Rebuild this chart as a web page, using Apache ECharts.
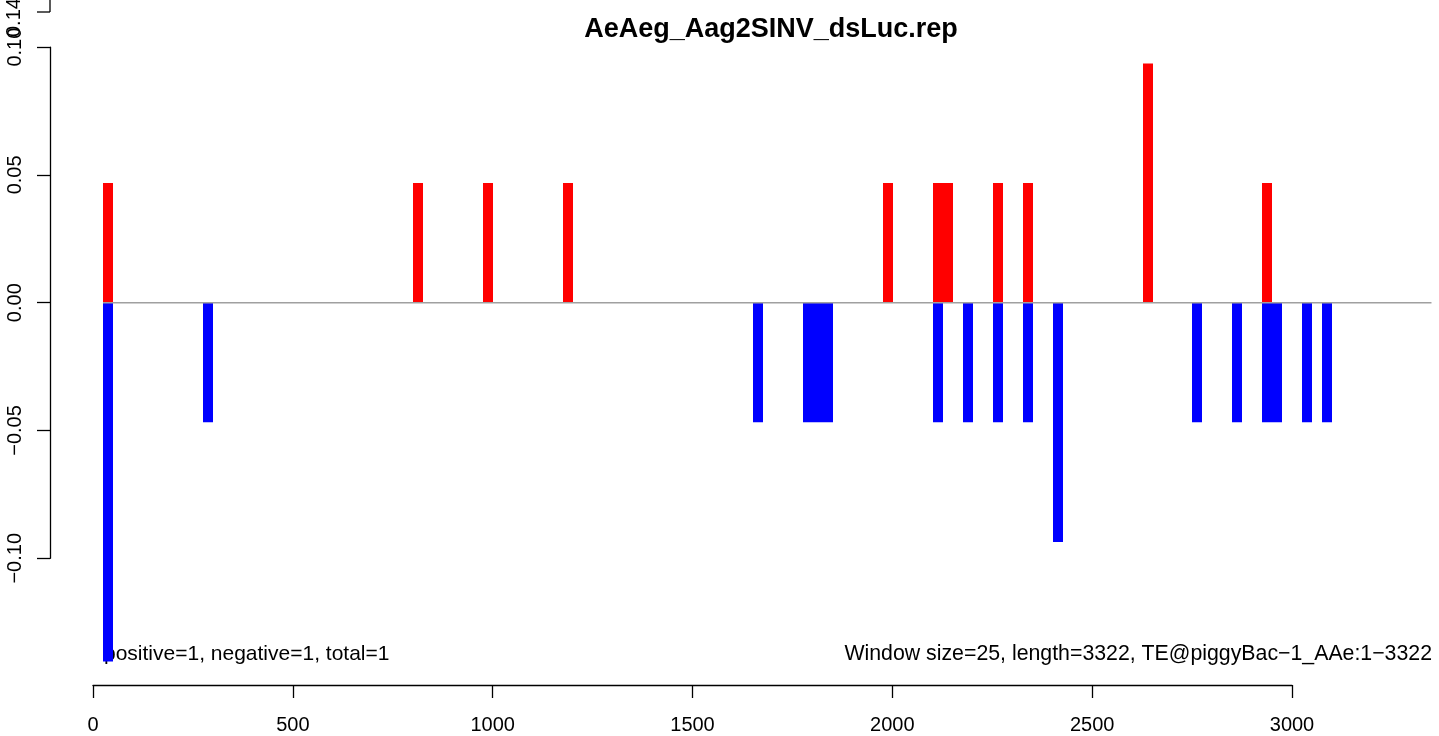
<!DOCTYPE html>
<html>
<head>
<meta charset="utf-8">
<script src="https://cdn.jsdelivr.net/npm/echarts@6/dist/echarts.min.js"></script>
<style>html,body{margin:0;padding:0;background:#fff;}#c{width:1439px;height:736px;}</style>
</head>
<body>
<div id="c"></div>
<script>
// Window size 25; each bar covers [start, start + windowSize]
var windowSize = 25;
var positiveStarts = [26, 801, 976, 1176, 1976, 2101, 2126, 2251, 2326, 2626, 2926];
var positiveValues = [0.0468, 0.0468, 0.0468, 0.0468, 0.0468, 0.0468, 0.0468, 0.0468, 0.0468, 0.0936, 0.0468];
var negativeStarts = [26, 276, 1651, 1776, 1801, 1826, 2101, 2176, 2251, 2326, 2401, 2751, 2851, 2926, 2951, 3026, 3076];
var negativeValues = [-0.1404, -0.0468, -0.0468, -0.0468, -0.0468, -0.0468, -0.0468, -0.0468, -0.0468, -0.0468, -0.0936, -0.0468, -0.0468, -0.0468, -0.0468, -0.0468, -0.0468];
var xTicks = [0, 500, 1000, 1500, 2000, 2500, 3000];
var yTicks = [-0.10, -0.05, 0.00, 0.05, 0.10];
var baselineRange = [25, 3349];
var titleText = 'AeAeg_Aag2SINV_dsLuc.rep';
var leftNote = 'positive=1, negative=1, total=1';
var rightNote = 'Window size=25, length=3322, TE@piggyBac\u22121_AAe:1\u22123322';

var FONT = '"Liberation Sans", Arial, Helvetica, sans-serif';

function barData(starts, vals) {
  return starts.map(function (s, i) { return [s, s + windowSize, vals[i]]; });
}
function renderBar(color) {
  return function (params, api) {
    var p0 = api.coord([api.value(0), 0]);
    var p1 = api.coord([api.value(1), api.value(2)]);
    var x0 = Math.round(Math.min(p0[0], p1[0]));
    var x1 = Math.round(Math.max(p0[0], p1[0]));
    var y = Math.min(p0[1], p1[1]);
    return {
      type: 'rect',
      shape: { x: x0, y: y, width: x1 - x0, height: Math.abs(p1[1] - p0[1]) },
      style: { fill: color }
    };
  };
}
function renderBaseline(params, api) {
  var a = api.coord([api.value(0), 0]);
  var b = api.coord([api.value(1), 0]);
  return {
    type: 'line',
    shape: { x1: a[0], y1: a[1], x2: b[0], y2: b[1] },
    style: { stroke: '#a0a0a0', lineWidth: 1.5 }
  };
}
function fmtY(v) {
  var s = Math.abs(v).toFixed(2);
  return (v < -1e-9 ? '\u2212' : '') + s;
}

var chart = echarts.init(document.getElementById('c'), null, { renderer: 'canvas' });
chart.setOption({
  animation: false,
  backgroundColor: '#ffffff',
  grid: { left: 93, right: 147, top: 47.1, bottom: 177.7, containLabel: false },
  xAxis: {
    type: 'value', min: xTicks[0], max: xTicks[xTicks.length - 1], interval: 500,
    offset: 126.7,
    axisLine: { show: true, onZero: false, lineStyle: { color: '#000', width: 1.3 } },
    axisTick: { show: true, inside: false, length: 13, lineStyle: { color: '#000', width: 1.3 } },
    axisLabel: { color: '#000', fontSize: 20, fontFamily: FONT, margin: 30, formatter: function (v) { return String(v); } },
    splitLine: { show: false }
  },
  yAxis: {
    type: 'value', min: yTicks[0], max: yTicks[yTicks.length - 1], interval: 0.05,
    offset: 43,
    axisLine: { show: true, onZero: false, lineStyle: { color: '#000', width: 1.3 } },
    axisTick: { show: true, inside: false, length: 13, lineStyle: { color: '#000', width: 1.3 } },
    axisLabel: { color: '#000', fontSize: 20, fontFamily: FONT, rotate: 90, margin: 25, formatter: fmtY },
    splitLine: { show: false }
  },
  series: [
    {
      type: 'custom', name: 'positive', clip: false, z: 2,
      renderItem: renderBar('#ff0000'),
      encode: { x: [0, 1], y: 2 },
      data: barData(positiveStarts, positiveValues)
    },
    {
      type: 'custom', name: 'negative', clip: false, z: 2,
      renderItem: renderBar('#0000ff'),
      encode: { x: [0, 1], y: 2 },
      data: barData(negativeStarts, negativeValues)
    },
    {
      type: 'custom', name: 'zero', clip: false, z: 3, silent: true,
      renderItem: renderBaseline,
      encode: { x: [0, 1] },
      data: [[baselineRange[0], baselineRange[1]]]
    }
  ],
  graphic: [
    { type: 'text', x: 771, y: 30,
      style: { text: titleText, font: 'bold 27px ' + FONT, fill: '#000', textAlign: 'center', textVerticalAlign: 'middle' } },
    { type: 'text', x: 104, y: 654,
      style: { text: leftNote, font: '21px ' + FONT, fill: '#000', textAlign: 'left', textVerticalAlign: 'middle' } },
    { type: 'text', x: 1432, y: 654,
      style: { text: rightNote, font: '21.3px ' + FONT, fill: '#000', textAlign: 'right', textVerticalAlign: 'middle' } },
    { type: 'line', shape: { x1: 50, y1: 0, x2: 50, y2: 12 }, style: { stroke: '#000', lineWidth: 1.3 } },
    { type: 'line', shape: { x1: 37, y1: 12, x2: 50, y2: 12 }, style: { stroke: '#000', lineWidth: 1.3 } },
    { type: 'text', x: 14, y: 12, rotation: Math.PI / 2,
      style: { text: '0.141', font: '20px ' + FONT, fill: '#000', textAlign: 'center', textVerticalAlign: 'middle' } }
  ]
});
</script>
</body>
</html>
